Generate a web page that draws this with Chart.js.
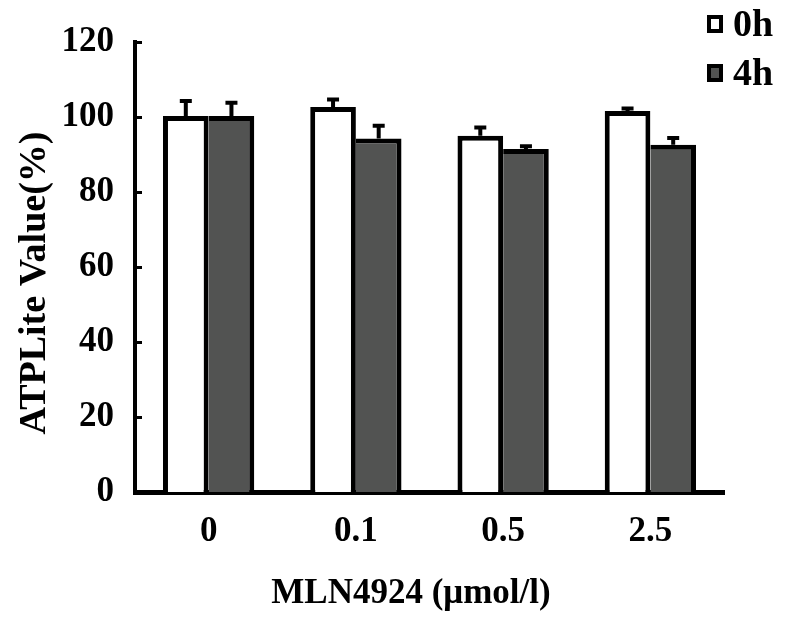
<!DOCTYPE html>
<html>
<head>
<meta charset="utf-8">
<script src="https://cdn.jsdelivr.net/npm/chart.js@4/dist/chart.umd.min.js"></script>
<style>
  html, body { margin: 0; padding: 0; background: #fff; }
  #wrap { width: 791px; height: 632px; }
</style>
</head>
<body>
<div id="wrap"><canvas id="c" width="791" height="632"></canvas></div>
<script>
const categories = ['0', '0.1', '0.5', '2.5'];
const seriesLabels = ['0h', '4h'];
const values0h = [100.3, 102.7, 95.0, 101.6];
const errors0h = [4.0, 2.0, 2.2, 0.7];
const values4h = [100.3, 94.3, 91.5, 92.6];
const errors4h = [3.5, 3.4, 0.7, 1.8];
const yTicks = [0, 20, 40, 60, 80, 100, 120];
const xTitle = 'MLN4924 (μmol/l)';
const yTitle = 'ATPLite Value(%)';

const FONT = '"Liberation Serif", "Times New Roman", serif';
const DARK = '#525352';

const errorBars = {
  id: 'errorBars',
  afterDatasetsDraw(chart) {
    const ctx = chart.ctx;
    const y = chart.scales.y;
    ctx.save();
    ctx.strokeStyle = '#000';
    ctx.lineWidth = 4;
    chart.data.datasets.forEach((ds, i) => {
      const meta = chart.getDatasetMeta(i);
      meta.data.forEach((el, j) => {
        const top = y.getPixelForValue(ds.data[j] + ds.errors[j]);
        ctx.beginPath();
        ctx.moveTo(el.x, el.y);
        ctx.lineTo(el.x, top);
        ctx.moveTo(el.x - 6, top);
        ctx.lineTo(el.x + 6, top);
        ctx.stroke();
      });
    });
    ctx.restore();
  }
};

const inwardTicks = {
  id: 'inwardTicks',
  afterDraw(chart) {
    const ctx = chart.ctx;
    const y = chart.scales.y;
    const left = chart.chartArea.left;
    ctx.save();
    ctx.strokeStyle = '#000';
    ctx.lineWidth = 3;
    y.ticks.forEach(t => {
      const py = Math.round(y.getPixelForValue(t.value)) + 0.5;
      ctx.beginPath();
      ctx.moveTo(left, py);
      ctx.lineTo(left + 7, py);
      ctx.stroke();
    });
    ctx.restore();
  }
};

const axisTitles = {
  id: 'axisTitles',
  afterDraw(chart) {
    const ctx = chart.ctx;
    ctx.save();
    ctx.fillStyle = '#000';
    ctx.textAlign = 'center';
    ctx.textBaseline = 'middle';
    ctx.font = 'bold 35px ' + FONT;
    ctx.fillText(xTitle, 411, 594);
    ctx.translate(35, 283);
    ctx.rotate(-Math.PI / 2);
    ctx.font = 'bold 38px ' + FONT;
    ctx.fillText(yTitle, 0, 0);
    ctx.restore();
  }
};

const customLegend = {
  id: 'customLegend',
  afterDraw(chart) {
    const ctx = chart.ctx;
    ctx.save();
    chart.data.datasets.forEach((ds, i) => {
      const cy = 24 + i * 49;
      const bx = 707, by = cy - 9;
      ctx.fillStyle = '#000';
      ctx.fillRect(bx, by, 16, 18);
      ctx.fillStyle = ds.backgroundColor;
      ctx.fillRect(bx + 4, by + 4, 8, 10);
      ctx.fillStyle = '#000';
      ctx.font = 'bold 38px ' + FONT;
      ctx.textBaseline = 'middle';
      ctx.textAlign = 'left';
      ctx.fillText(ds.label, 733, cy + 2);
    });
    ctx.restore();
  }
};

new Chart(document.getElementById('c'), {
  type: 'bar',
  data: {
    labels: categories,
    datasets: [
      {
        label: seriesLabels[0],
        data: values0h,
        errors: errors0h,
        backgroundColor: '#ffffff',
        borderColor: '#000000',
        borderWidth: { top: 5, left: 5, right: 5, bottom: 0 },
        borderSkipped: false
      },
      {
        label: seriesLabels[1],
        data: values4h,
        errors: errors4h,
        backgroundColor: DARK,
        borderColor: '#000000',
        borderWidth: { top: 5, left: 0, right: 5, bottom: 0 },
        borderSkipped: false
      }
    ]
  },
  options: {
    responsive: false,
    animation: false,
    devicePixelRatio: 1,
    layout: { padding: { top: 37, right: 67, left: 0, bottom: 0 } },
    plugins: {
      legend: { display: false },
      tooltip: { enabled: false }
    },
    datasets: { bar: { categoryPercentage: 0.62, barPercentage: 1.0 } },
    scales: {
      x: {
        grid: { display: false, drawTicks: false },
        border: { display: true, color: '#000', width: 5 },
        ticks: { color: '#000', font: { family: FONT, size: 35, weight: 'bold' }, padding: 19 },
        afterFit(s) { s.height = 140; }
      },
      y: {
        min: 0, max: 120,
        afterBuildTicks(s) { s.ticks = yTicks.map(v => ({ value: v })); },
        grid: { display: false, drawTicks: false },
        border: { display: true, color: '#000', width: 4 },
        ticks: { color: '#000', font: { family: FONT, size: 35, weight: 'bold' }, padding: 21 },
        afterFit(s) { s.width = 135; }
      }
    }
  },
  plugins: [errorBars, inwardTicks, axisTitles, customLegend]
});
</script>
</body>
</html>
